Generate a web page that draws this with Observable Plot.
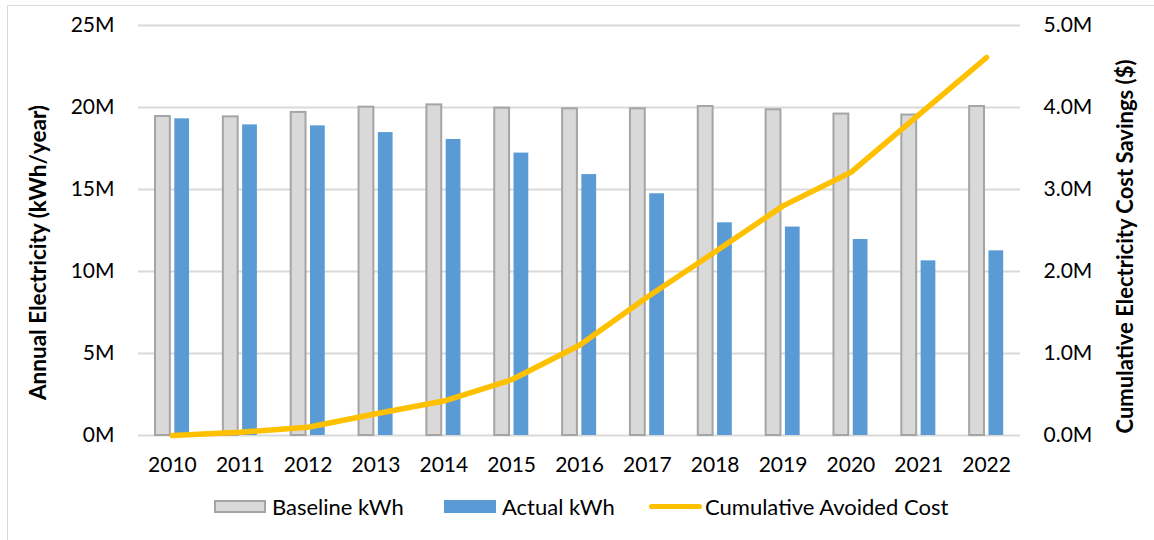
<!DOCTYPE html>
<html>
<head>
<meta charset="utf-8">
<script src="https://cdn.jsdelivr.net/npm/d3@7"></script>
<script src="https://cdn.jsdelivr.net/npm/@observablehq/plot@0.6"></script>
<style>
  html, body { margin: 0; padding: 0; background: #fff; }
  body { width: 1154px; height: 540px; position: relative; overflow: hidden; font-family: Lato, "Open Sans", sans-serif; }
  #frame { position: absolute; left: 7px; top: 5px; width: 1160px; height: 540px; border: 1.5px solid #d9d9d9; box-sizing: border-box; }
  #chart { position: absolute; left: 0; top: 0; }
  #legend { position: absolute; left: 0; top: 492px; width: 1154px; height: 28px; font-size: 22px; color: #000; }
  .item { position: absolute; top: 0; display: flex; align-items: center; height: 28px; }
  .sw-bar { width: 52px; height: 13px; margin-right: 6px; box-sizing: border-box; }
  .sw-line { width: 53px; height: 5px; margin-right: 3px; border-radius: 3px; }
</style>
</head>
<body>
<div id="frame"></div>
<div id="chart"></div>
<div id="legend"></div>
<script>
const years = ["2010","2011","2012","2013","2014","2015","2016","2017","2018","2019","2020","2021","2022"];
const baselineKWh = [19.45, 19.43, 19.70, 20.02, 20.16, 19.96, 19.92, 19.92, 20.06, 19.86, 19.60, 19.54, 20.06]; // millions
const actualKWh   = [19.31, 18.94, 18.88, 18.47, 18.05, 17.22, 15.91, 14.74, 12.97, 12.71, 11.95, 10.65, 11.26]; // millions
const cumulativeCost = [0.0, 0.04, 0.10, 0.265, 0.42, 0.68, 1.10, 1.69, 2.24, 2.80, 3.21, 3.91, 4.61]; // millions $
const leftTicks = [0, 5, 10, 15, 20, 25];
const rightTicks = [0, 1, 2, 3, 4, 5];
const seriesNames = ["Baseline kWh", "Actual kWh", "Cumulative Avoided Cost"];
const leftTitle = "Annual Electricity (kWh/year)";
const rightTitle = "Cumulative Electricity Cost Savings ($)";

const colors = { baseFill: "#d9d9d9", baseStroke: "#a5a5a5", actual: "#5b9bd5", line: "#ffc000", grid: "#d9d9d9" };
const ratio = 25 / 5; // left max / right max

const rows = years.map((y, i) => ({ year: y, base: baselineKWh[i], actual: actualKWh[i], cost: cumulativeCost[i] }));

const chart = Plot.plot({
  width: 1154,
  height: 485,
  marginTop: 25,
  marginBottom: 50,
  marginLeft: 138,
  marginRight: 134,
  style: { fontFamily: "Lato, 'Open Sans', sans-serif", fontSize: "21px", color: "#000", background: "transparent", overflow: "visible" },
  x: { type: "band", domain: years, padding: 0, round: false, label: null },
  y: { domain: [0, 25], label: null },
  marks: [
    Plot.ruleY(leftTicks, { stroke: colors.grid, strokeWidth: 2 }),
    Plot.barY(rows, { x: "year", y: "base", fill: colors.baseFill, stroke: colors.baseStroke, strokeWidth: 2, insetLeft: 17, insetRight: 36 }),
    Plot.barY(rows, { x: "year", y: "actual", fill: colors.actual, insetLeft: 36.3, insetRight: 16.8 }),
    Plot.line(rows, { x: "year", y: d => d.cost * ratio, stroke: colors.line, strokeWidth: 5.5, strokeLinejoin: "round", strokeLinecap: "round" }),
    Plot.axisX({ tickSize: 0, tickPadding: 22, fontSize: 21 }),
    Plot.axisY(leftTicks, { anchor: "left", tickSize: 0, tickPadding: 24, tickFormat: d => d + "M", label: null, fontSize: 21 }),
    Plot.axisY(rightTicks.map(d => d * ratio), { anchor: "right", tickSize: 0, tickPadding: 23, tickFormat: d => (d / ratio).toFixed(1) + "M", label: null, fontSize: 21 }),
    Plot.text([leftTitle], { frameAnchor: "left", textAnchor: "middle", dx: -100, dy: 22, rotate: -90, fontWeight: "bold", fontSize: 22.5, text: d => d }),
    Plot.text([rightTitle], { frameAnchor: "right", textAnchor: "middle", dx: 105, dy: 16, rotate: -90, fontWeight: "bold", fontSize: 22, text: d => d })
  ]
});
document.getElementById("chart").appendChild(chart);

const legend = document.getElementById("legend");
const items = [
  { name: seriesNames[0], left: 214, sw: `<div class="sw-bar" style="background:${colors.baseFill};border:2px solid ${colors.baseStroke}"></div>` },
  { name: seriesNames[1], left: 444, sw: `<div class="sw-bar" style="background:${colors.actual}"></div>` },
  { name: seriesNames[2], left: 649, sw: `<div class="sw-line" style="background:${colors.line}"></div>` }
];
for (const it of items) {
  const el = document.createElement("div");
  el.className = "item";
  el.style.left = it.left + "px";
  el.innerHTML = it.sw + `<span>${it.name}</span>`;
  legend.appendChild(el);
}
</script>
</body>
</html>
